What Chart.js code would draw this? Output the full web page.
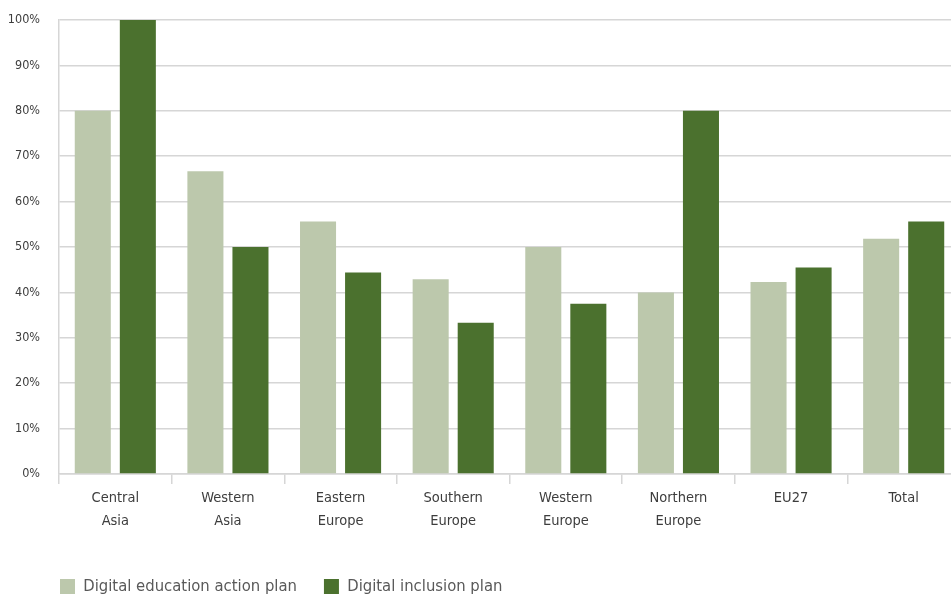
<!DOCTYPE html>
<html>
<head>
<meta charset="utf-8">
<script src="https://cdn.jsdelivr.net/npm/chart.js@4.4.1/dist/chart.umd.min.js"></script>
<style>
  html, body { margin: 0; padding: 0; background: #fff; overflow: hidden; }
  #wrap { width: 960px; height: 599px; }
</style>
</head>
<body>
<div id="wrap"><canvas id="plans" width="960" height="599"></canvas></div>
<script>
// regions and share of countries with each plan (%)
const regions = [
  ["Central", "Asia"], ["Western", "Asia"], ["Eastern", "Europe"], ["Southern", "Europe"],
  ["Western", "Europe"], ["Northern", "Europe"], "EU27", "Total"
];
const educationPlan = [80, 66.7, 55.6, 42.9, 50, 40, 42.3, 51.8];
const inclusionPlan = [100, 50, 44.4, 33.3, 37.5, 80, 45.5, 55.6];
const seriesNames = ["Digital education action plan", "Digital inclusion plan"];

const FONT = '"Liberation Sans Narrow", "DejaVu Sans Condensed", Roboto, sans-serif';
const GRID = '#d6d6d6';

// legend sits under the plot, lined up with the y axis
const legendPlace = {
  id: 'legendPlace',
  afterLayout(chart) {
    const lg = chart.legend;
    const pad = lg.options.labels.padding;
    const fs = lg.options.labels.font.size;
    const bh = lg.options.labels.boxHeight;
    lg.left = chart.chartArea.left + 1 - pad;
    lg.right = lg.left + chart.width;
    lg.top = 579 - pad - Math.max((fs - bh) / 2, 0);
    lg.bottom = chart.height;
  }
};

new Chart(document.getElementById('plans'), {
  type: 'bar',
  data: {
    labels: regions,
    datasets: [
      { label: seriesNames[0], data: educationPlan, backgroundColor: '#bcc8ac' },
      { label: seriesNames[1], data: inclusionPlan, backgroundColor: '#4b712e' }
    ]
  },
  options: {
    responsive: false,
    animation: false,
    datasets: { bar: { barPercentage: 0.8, categoryPercentage: 0.8 } },
    layout: { padding: { top: 20, left: 0, right: 0, bottom: 0 } },
    scales: {
      x: {
        grid: { drawOnChartArea: false, drawTicks: true, tickLength: 10, color: GRID, lineWidth: 1.5 },
        border: { color: GRID, width: 1.5 },
        ticks: { color: '#3d3d3d', font: { family: FONT, size: 14.5, lineHeight: 1.58 }, padding: 3, maxRotation: 0 },
        afterFit(s) { s.height = 85; }
      },
      y: {
        min: 0, max: 100,
        ticks: { stepSize: 10, color: '#3d3d3d', font: { family: FONT, size: 12.5 }, padding: 0,
                 callback: v => v + '%' },
        // invisible tick marks keep the labels clear of the axis
        grid: { color: GRID, lineWidth: 1.5, drawTicks: true, tickLength: 19, tickColor: 'rgba(0,0,0,0)' },
        border: { color: GRID, width: 1.5 },
        afterFit(s) { s.width = 59; }
      }
    },
    plugins: {
      legend: {
        position: 'bottom',
        align: 'start',
        maxHeight: 40,
        labels: { boxWidth: 15, boxHeight: 15, padding: 27, color: '#595959',
                  font: { family: FONT, size: 16.5 } }
      },
      tooltip: { enabled: false }
    }
  },
  plugins: [legendPlace]
});
</script>
</body>
</html>
